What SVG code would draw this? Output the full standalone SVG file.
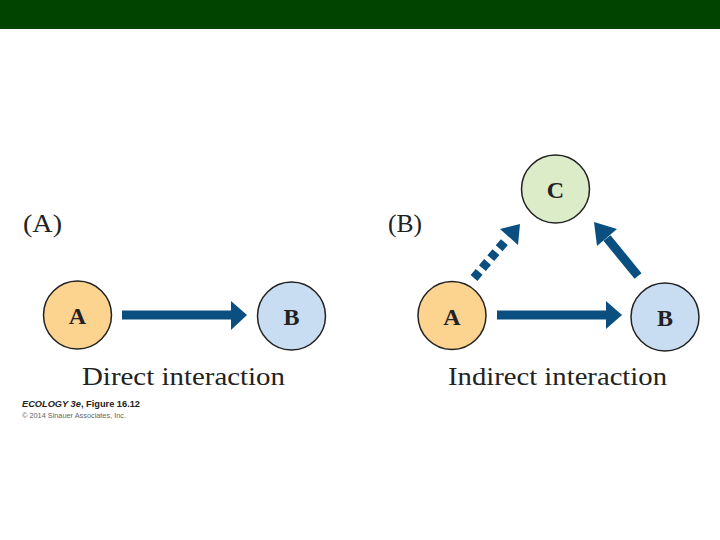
<svg xmlns="http://www.w3.org/2000/svg" width="720" height="540" viewBox="0 0 720 540">
<style>
.node{stroke:#222;stroke-width:1.5}
.nl{font-family:"Liberation Serif","Times New Roman",serif;font-weight:bold;font-size:24px;fill:#222;text-anchor:middle}
.cap{font-family:"Liberation Serif","Times New Roman",serif;font-size:25px;fill:#222}
.shaft{stroke:#0a4f7f;stroke-width:9;fill:none}
.head{fill:#0a4f7f}
</style>
<rect x="0" y="0" width="720" height="29" fill="#004400"/>
<text class="cap" x="23" y="232" textLength="39" lengthAdjust="spacingAndGlyphs">(A)</text>
<text class="cap" x="388" y="232" textLength="34" lengthAdjust="spacingAndGlyphs">(B)</text>
<g id="connectors">
<line class="shaft" x1="122" y1="315" x2="233" y2="315"/>
<polygon class="head" points="231,301 247,315 231,330"/>
<line class="shaft" x1="497" y1="315" x2="608" y2="315"/>
<polygon class="head" points="606,301 622,315 606,329"/>
<line class="shaft" x1="638" y1="276" x2="607" y2="238"/>
<polygon class="head" points="594,222 617,229 597,246"/>
<line class="shaft" x1="474" y1="278" x2="507" y2="239" stroke-dasharray="8 5"/>
<polygon class="head" points="520,224 500,229 518,245"/>
</g>
<g id="panelA-A"><circle class="node" cx="77.5" cy="315" r="34" fill="#fcd38f"/><text class="nl" x="77.5" y="324">A</text></g>
<g id="panelA-B"><circle class="node" cx="291.5" cy="316" r="34" fill="#c9ddf2"/><text class="nl" x="291.5" y="325">B</text></g>
<g id="panelB-A"><circle class="node" cx="452" cy="315.5" r="34" fill="#fcd38f"/><text class="nl" x="452" y="324.5">A</text></g>
<g id="panelB-B"><circle class="node" cx="665" cy="317" r="34" fill="#c9ddf2"/><text class="nl" x="665" y="326">B</text></g>
<g id="panelB-C"><circle class="node" cx="555.5" cy="189" r="34" fill="#dcebc8"/><text class="nl" x="555.5" y="198">C</text></g>
<text class="cap" x="82" y="385" textLength="203" lengthAdjust="spacingAndGlyphs">Direct interaction</text>
<text class="cap" x="448" y="385" textLength="219" lengthAdjust="spacingAndGlyphs">Indirect interaction</text>
<text x="22" y="407" font-family="'Liberation Sans',Arial,sans-serif" font-size="9" font-weight="bold" fill="#222" textLength="118" lengthAdjust="spacingAndGlyphs"><tspan font-style="italic">ECOLOGY 3e</tspan>, Figure 16.12</text>
<text x="22" y="418" font-family="'Liberation Sans',Arial,sans-serif" font-size="7" fill="#666" textLength="104" lengthAdjust="spacingAndGlyphs">© 2014 Sinauer Associates, Inc.</text>
</svg>
